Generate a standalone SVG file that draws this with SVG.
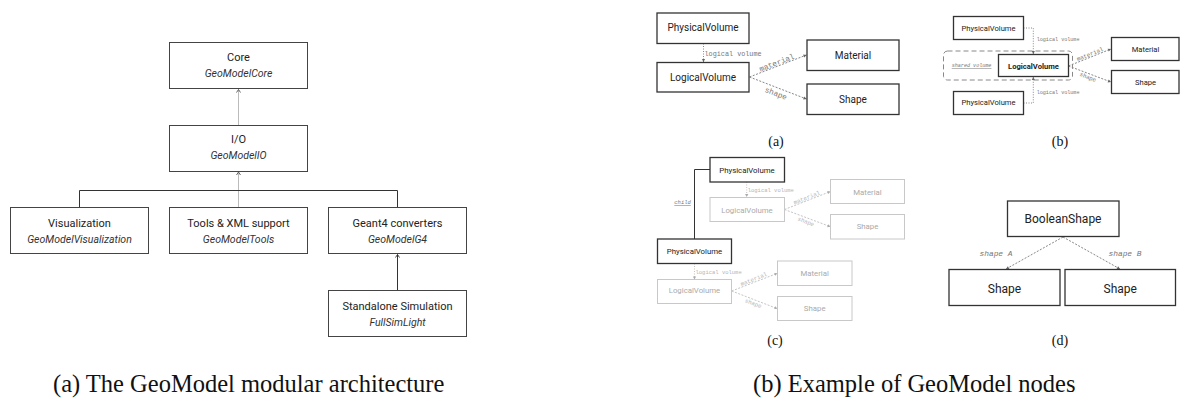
<svg xmlns="http://www.w3.org/2000/svg" width="1180" height="398" viewBox="0 0 1180 398">
<style>
.bg{fill:#fff}
.lbox{fill:#fff;stroke:#444;stroke-width:1}
.dbox{fill:#fff;stroke:#333;stroke-width:1.3}
.gbox{fill:#fff;stroke:#c8c8c8;stroke-width:1}
.t{font-family:Roboto,"Noto Sans",sans-serif;fill:#222;text-anchor:middle}
.ti{font-family:Roboto,"Noto Sans",sans-serif;font-style:italic;fill:#333;text-anchor:middle}
.tg{font-family:Roboto,"Noto Sans",sans-serif;fill:#aaa;text-anchor:middle}
.m{font-family:"Liberation Mono",monospace;fill:#777}
.mg{font-family:"Liberation Mono",monospace;fill:#b5b5b5}
.cap{font-family:"Liberation Serif",serif;fill:#111}
.cdark{fill:none;stroke:#333;stroke-width:1}
.cgray{fill:none;stroke:#bbb;stroke-width:1}
.dot{fill:none;stroke:#888;stroke-width:1;stroke-dasharray:1 1.5}
.dash{fill:none;stroke:#888;stroke-width:1;stroke-dasharray:2 1.5}
.dotl{fill:none;stroke:#c4c4c4;stroke-width:1;stroke-dasharray:1 1.5}
.dashl{fill:none;stroke:#c4c4c4;stroke-width:1;stroke-dasharray:2 1.5}
</style>
<defs>
<marker id="chevD" viewBox="-4 -3 5 6" markerWidth="5" markerHeight="6" refX="0" refY="0" orient="auto" markerUnits="userSpaceOnUse"><path d="M-3,-2 L0,0 L-3,2" fill="none" stroke="#333" stroke-width="0.9"/></marker>
<marker id="chevG" viewBox="-4 -3 5 6" markerWidth="5" markerHeight="6" refX="0" refY="0" orient="auto" markerUnits="userSpaceOnUse"><path d="M-3,-2 L0,0 L-3,2" fill="none" stroke="#555" stroke-width="0.9"/></marker>
<marker id="triG" viewBox="-4 -3 5 6" markerWidth="5" markerHeight="6" refX="0" refY="0" orient="auto" markerUnits="userSpaceOnUse"><path d="M-3,-1.6 L0,0 L-3,1.6 Z" fill="#666"/></marker>
<marker id="triL" viewBox="-4 -3 5 6" markerWidth="5" markerHeight="6" refX="0" refY="0" orient="auto" markerUnits="userSpaceOnUse"><path d="M-3,-1.6 L0,0 L-3,1.6 Z" fill="#aaa"/></marker>
</defs>
<rect class="bg" x="0" y="0" width="1180" height="398"/>

<!-- Left architecture diagram -->
<g id="connectors-arch">
<path class="cgray" d="M238.5,125.5 V89.5" marker-end="url(#chevG)"/>
<path class="cgray" d="M238.5,207.5 V172" marker-end="url(#chevG)"/>
<path class="cdark" d="M79.5,207.5 V190.5 H397.5 V207.5"/>
<path class="cdark" d="M397.5,290.5 V254.5" marker-end="url(#chevD)"/>
</g>
<g id="core"><rect class="lbox" x="169.5" y="42.5" width="138" height="46"/><text class="t" x="238.5" y="61" font-size="11">Core</text><text class="ti" x="238.5" y="77" font-size="10.5">GeoModelCore</text></g>
<g id="io"><rect class="lbox" x="169.5" y="125.5" width="138" height="46"/><text class="t" x="238.5" y="143" font-size="11">I/O</text><text class="ti" x="238.5" y="159" font-size="10.5">GeoModelIO</text></g>
<g id="vis"><rect class="lbox" x="10.5" y="207.5" width="138" height="46"/><text class="t" x="79.5" y="227" font-size="11">Visualization</text><text class="ti" x="79.5" y="243" font-size="10.5">GeoModelVisualization</text></g>
<g id="tools"><rect class="lbox" x="169.5" y="207.5" width="138" height="46"/><text class="t" x="238.5" y="227" font-size="11">Tools &amp; XML support</text><text class="ti" x="238.5" y="243" font-size="10.5">GeoModelTools</text></g>
<g id="g4"><rect class="lbox" x="328.5" y="207.5" width="138" height="46"/><text class="t" x="397.5" y="227" font-size="11">Geant4 converters</text><text class="ti" x="397.5" y="243" font-size="10.5">GeoModelG4</text></g>
<g id="fsl"><rect class="lbox" x="328.5" y="290.5" width="138" height="46"/><text class="t" x="397.5" y="309.5" font-size="11">Standalone Simulation</text><text class="ti" x="397.5" y="325.5" font-size="10.5">FullSimLight</text></g>

<!-- Panel (a) -->
<g id="connectors-a">
<path class="dot" d="M703.5,43.5 V62" marker-end="url(#triG)"/>
<path class="dash" d="M749.5,77 L806.5,55" marker-end="url(#triG)"/>
<path class="dash" d="M749.5,77 L806.5,99" marker-end="url(#triG)"/>
<text class="m" x="704.5" y="55.7" font-size="6.8">logical volume</text>
<text class="m" font-size="7.7" text-anchor="middle" transform="translate(776.7,62.5) rotate(-21)" y="2.7">material</text>
<text class="m" font-size="7.7" text-anchor="middle" transform="translate(776,93.3) rotate(21)" y="2.7">shape</text>
</g>
<g id="a-pv"><rect class="dbox" x="657" y="13" width="92" height="30.5"/><text class="t" x="703" y="31.2" font-size="10">PhysicalVolume</text></g>
<g id="a-lv"><rect class="dbox" x="657" y="62.5" width="92" height="29.5"/><text class="t" x="703" y="80.8" font-size="10">LogicalVolume</text></g>
<g id="a-mat"><rect class="dbox" x="807" y="40" width="92" height="30.5"/><text class="t" x="853" y="58.5" font-size="10">Material</text></g>
<g id="a-shape"><rect class="dbox" x="807" y="84" width="92" height="30.5"/><text class="t" x="853" y="102.8" font-size="10">Shape</text></g>
<text class="cap" x="776" y="146" font-size="14" text-anchor="middle">(a)</text>

<!-- Panel (b) -->
<g id="connectors-b">
<rect x="943.5" y="51" width="129" height="29" rx="4" fill="none" stroke="#888" stroke-width="1" stroke-dasharray="5 3"/>
<path class="dot" d="M1023.5,28 H1033.3 V54" marker-end="url(#triG)"/>
<path class="dot" d="M1023.5,103 H1033.3 V77" marker-end="url(#triG)"/>
<path class="dash" d="M1068.5,66 L1111,49" marker-end="url(#triG)"/>
<path class="dash" d="M1068.5,66 L1111,82" marker-end="url(#triG)"/>
<text class="m" x="1036.7" y="40.8" font-size="5.1">logical volume</text>
<text class="m" x="1036.7" y="93.8" font-size="5.1">logical volume</text>
<text class="m" x="951.7" y="67.1" font-size="5.1" font-style="italic" text-decoration="underline">shared volume</text>
<text class="m" font-size="5.8" text-anchor="middle" transform="translate(1090,54) rotate(-21.8)" y="2">material</text>
<text class="m" font-size="5.8" text-anchor="middle" transform="translate(1088,77) rotate(21.8)" y="2">shape</text>
</g>
<g id="b-pv1"><rect class="dbox" x="953.5" y="16.5" width="70" height="23"/><text class="t" x="988.5" y="30.7" font-size="7.6">PhysicalVolume</text></g>
<g id="b-lv"><rect class="dbox" x="998.5" y="54.5" width="70" height="22"/><text class="t" x="1033.5" y="68.7" font-size="7.6" font-weight="bold">LogicalVolume</text></g>
<g id="b-pv2"><rect class="dbox" x="953.5" y="91.5" width="70" height="23"/><text class="t" x="988.5" y="105.4" font-size="7.6">PhysicalVolume</text></g>
<g id="b-mat"><rect class="dbox" x="1111.5" y="37.5" width="67.5" height="23"/><text class="t" x="1145.5" y="51.7" font-size="7.6">Material</text></g>
<g id="b-shape"><rect class="dbox" x="1111.5" y="70.5" width="67.5" height="23"/><text class="t" x="1145.5" y="85" font-size="7.6">Shape</text></g>
<text class="cap" x="1060" y="146" font-size="14" text-anchor="middle">(b)</text>

<!-- Panel (c) -->
<g id="connectors-c">
<path class="cdark" d="M710,169.5 H694.5 V239"/>
<path class="dotl" d="M746.7,182 V197" marker-end="url(#triL)"/>
<path class="dashl" d="M784.5,209.5 L830.5,191.5" marker-end="url(#triL)"/>
<path class="dashl" d="M784.5,209.5 L830.5,226.7" marker-end="url(#triL)"/>
<path class="dotl" d="M694.5,263.5 V279.5" marker-end="url(#triL)"/>
<path class="dashl" d="M731.7,291 L777.5,273.3" marker-end="url(#triL)"/>
<path class="dashl" d="M731.7,291 L777.5,308.7" marker-end="url(#triL)"/>
<text class="mg" x="747.7" y="192.2" font-size="5.5">logical volume</text>
<text class="mg" x="695.5" y="274.2" font-size="5.5">logical volume</text>
<text class="m" x="674.3" y="204.2" font-size="5.5" font-style="italic" text-decoration="underline" fill="#555">child</text>
<text class="mg" font-size="5.8" text-anchor="middle" transform="translate(806.7,197.5) rotate(-21.4)" y="2">material</text>
<text class="mg" font-size="5.8" text-anchor="middle" transform="translate(806,221.5) rotate(21.4)" y="2">shape</text>
<text class="mg" font-size="5.8" text-anchor="middle" transform="translate(753.8,279) rotate(-21.4)" y="2">material</text>
<text class="mg" font-size="5.8" text-anchor="middle" transform="translate(753.3,303.3) rotate(21.4)" y="2">shape</text>
</g>
<g id="c-pv1"><rect class="dbox" x="710" y="157.5" width="74.5" height="24.5"/><text class="t" x="747" y="172.7" font-size="7.8">PhysicalVolume</text></g>
<g id="c-lv1"><rect class="gbox" x="710" y="197.5" width="74.5" height="24"/><text class="tg" x="747" y="212.7" font-size="7.8">LogicalVolume</text></g>
<g id="c-mat1"><rect class="gbox" x="830.5" y="179.5" width="74" height="24"/><text class="tg" x="867.5" y="194.7" font-size="7.8">Material</text></g>
<g id="c-shape1"><rect class="gbox" x="830.5" y="214.5" width="74" height="24.5"/><text class="tg" x="867.5" y="229.4" font-size="7.8">Shape</text></g>
<g id="c-pv2"><rect class="dbox" x="657.5" y="239" width="74" height="24.5"/><text class="t" x="694.5" y="253.7" font-size="7.8">PhysicalVolume</text></g>
<g id="c-lv2"><rect class="gbox" x="657.5" y="279.5" width="74" height="24"/><text class="tg" x="694.5" y="293.4" font-size="7.8">LogicalVolume</text></g>
<g id="c-mat2"><rect class="gbox" x="777.5" y="261" width="74.5" height="24.5"/><text class="tg" x="814.7" y="276" font-size="7.8">Material</text></g>
<g id="c-shape2"><rect class="gbox" x="777.5" y="296.5" width="74.5" height="24"/><text class="tg" x="814.7" y="311.4" font-size="7.8">Shape</text></g>
<text class="cap" x="775" y="345" font-size="14" text-anchor="middle">(c)</text>

<!-- Panel (d) -->
<g id="connectors-d">
<path class="dash" d="M1063,237 L1006,269" stroke-dasharray="2 2" marker-end="url(#triG)"/>
<path class="dash" d="M1063,237 L1120,269" stroke-dasharray="2 2" marker-end="url(#triG)"/>
<text class="m" x="996" y="255.5" font-size="7.9" font-style="italic" text-anchor="middle" fill="#666">shape A</text>
<text class="m" x="1125" y="255.5" font-size="7.9" font-style="italic" text-anchor="middle" fill="#666">shape B</text>
</g>
<g id="d-bool"><rect class="dbox" x="1007.5" y="201" width="111.5" height="35.5"/><text class="t" x="1063" y="223.2" font-size="12">BooleanShape</text></g>
<g id="d-shapeA"><rect class="dbox" x="949" y="269.5" width="111" height="36"/><text class="t" x="1004.5" y="292.5" font-size="12">Shape</text></g>
<g id="d-shapeB"><rect class="dbox" x="1065" y="269.5" width="110.5" height="36"/><text class="t" x="1120.3" y="292.5" font-size="12">Shape</text></g>
<text class="cap" x="1060" y="345" font-size="14" text-anchor="middle">(d)</text>

<!-- Captions -->
<text class="cap" x="53" y="392" font-size="24.5">(a) The GeoModel modular architecture</text>
<text class="cap" x="753" y="392" font-size="24.5">(b) Example of GeoModel nodes</text>
</svg>
